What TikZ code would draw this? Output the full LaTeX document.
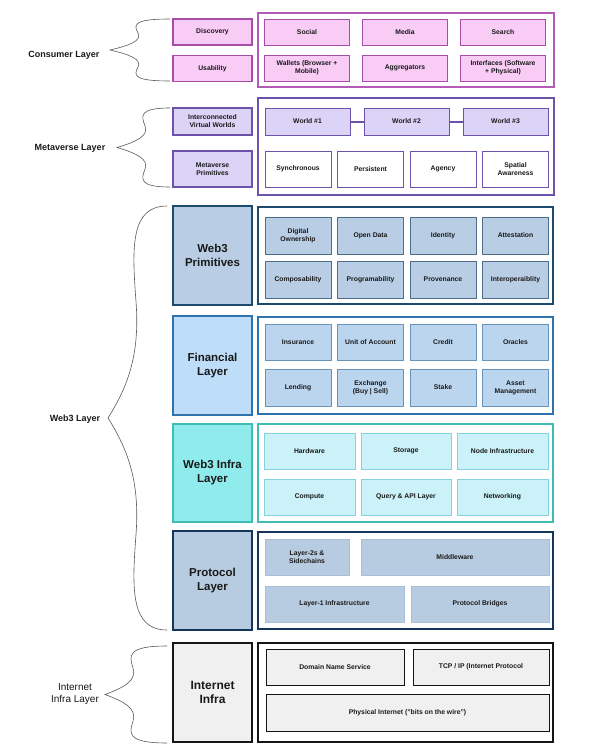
\documentclass[tikz,border=0pt]{standalone}
\usepackage{fontspec}
\setmainfont{Liberation Sans}
\usetikzlibrary{positioning}

\definecolor{conFill}{HTML}{F9CCF6}
\definecolor{conLine}{HTML}{A54DA8}
\definecolor{conBox}{HTML}{B25CB8}
\definecolor{metaFill}{HTML}{DCD4F7}
\definecolor{metaLine}{HTML}{6C52A8}
\definecolor{primFill}{HTML}{B9CEE4}
\definecolor{primLine}{HTML}{1E4A6C}
\definecolor{finSide}{HTML}{BDDDF8}
\definecolor{finSideLine}{HTML}{2E73AE}
\definecolor{finFill}{HTML}{BCD5EE}
\definecolor{finLine}{HTML}{6A93B8}
\definecolor{infraSide}{HTML}{8FEBEC}
\definecolor{infraSideLine}{HTML}{3FBCB4}
\definecolor{infraFill}{HTML}{CBF2F8}
\definecolor{infraLine}{HTML}{86D2DC}
\definecolor{protFill}{HTML}{B8CCE1}
\definecolor{protLine}{HTML}{16355A}
\definecolor{protItem}{HTML}{A9BFD8}
\definecolor{netFill}{HTML}{F0F0F0}
\definecolor{netLine}{HTML}{151515}

% curly brace on the left: right x, tip x, top y, bottom y
\newcommand{\sidebrace}[4]{%
  \pgfmathsetmacro{\brh}{(#4-#3)/2}
  \pgfmathsetmacro{\brm}{(#4+#3)/2}
  \draw[brace] (#1,#3) .. controls ({#2+22},#3) and ({#2+24},{#3+0.2*\brh}) .. ({#2+28},{#3+0.45*\brh})
     .. controls ({#2+32},{#3+0.7*\brh}) and ({#2+20},{\brm-0.15*\brh}) .. (#2,\brm)
     .. controls ({#2+20},{\brm+0.15*\brh}) and ({#2+32},{#4-0.7*\brh}) .. ({#2+28},{#4-0.45*\brh})
     .. controls ({#2+24},{#4-0.2*\brh}) and ({#2+22},#4) .. (#1,#4);
}

\begin{document}
\begin{tikzpicture}[
    x=1pt, y=-1pt,
    cell/.style={rectangle, draw, line width=1pt, align=center, inner sep=1pt, text=black!90,
        font=\fontsize{6.8}{7.9}\selectfont\bfseries},
    side/.style={rectangle, draw, line width=1.6pt, align=center, inner sep=1pt, text=black!90,
        minimum width=79pt, font=\fontsize{11.5}{14}\selectfont\bfseries},
    frame/.style={rectangle, draw, line width=1.6pt, fill=white, minimum width=295pt},
    tag/.style={align=center, text=black!90, font=\fontsize{9}{11}\selectfont\bfseries},
    brace/.style={draw=black!65, line width=0.6pt},
    wh/.style 2 args={minimum width=#1pt, minimum height=#2pt},
    link/.style={draw=metaLine, line width=2pt}
]
\useasboundingbox (0,0) rectangle (600,744);

% Consumer Layer
\node (Consumer) at (64,55) [tag] {Consumer Layer};
\sidebrace{170}{110}{19}{81}
\node (Discovery) at (212.5,32) [cell, wh={79}{26}, fill=conFill, draw=conLine, line width=1.4pt] {Discovery};
\node (Usability) at (212.5,68.5) [cell, wh={79}{26}, fill=conFill, draw=conLine, line width=1.4pt] {Usability};
\node (ConFrame) at (406,50) [frame, wh={296}{74}, draw=conBox] {};
\node (Social) at (307,32) [cell, wh={85}{26}, fill=conFill, draw=conLine] {Social};
\node (Media) at (405,32) [cell, wh={85}{26}, fill=conFill, draw=conLine] {Media};
\node (Search) at (503,32) [cell, wh={85}{26}, fill=conFill, draw=conLine] {Search};
\node (Wallets) at (307,68) [cell, wh={85}{26}, fill=conFill, draw=conLine] {Wallets (Browser +\\Mobile)};
\node (Aggregators) at (405,68) [cell, wh={85}{26}, fill=conFill, draw=conLine] {Aggregators};
\node (Interfaces) at (503,68) [cell, wh={85}{26}, fill=conFill, draw=conLine] {Interfaces (Software\\+ Physical)};

% Metaverse Layer
\node (Metaverse) at (70,148) [tag] {Metaverse Layer};
\sidebrace{170}{117}{108}{187}
\node (Worlds) at (212.5,121.5) [cell, wh={79}{27}, fill=metaFill, draw=metaLine, line width=1.4pt] {Interconnected\\Virtual Worlds};
\node (MetaPrim) at (212.5,169) [cell, wh={79}{36}, fill=metaFill, draw=metaLine, line width=1.4pt] {Metaverse\\Primitives};
\node (MetaFrame) at (406,146.5) [frame, wh={296}{97}, draw=metaLine] {};
\node (WorldA) at (307.5,121.5) [cell, wh={85}{27}, fill=metaFill, draw=metaLine] {World \#1};
\node (WorldB) at (406.5,121.5) [cell, wh={85}{27}, fill=metaFill, draw=metaLine] {World \#2};
\node (WorldC) at (505.5,121.5) [cell, wh={85}{27}, fill=metaFill, draw=metaLine] {World \#3};
\draw[link] (WorldA.east) -- (WorldB.west);
\draw[link] (WorldB.east) -- (WorldC.west);
\node (Sync) at (298,169) [cell, wh={66}{36}, fill=white, draw=metaLine] {Synchronous};
\node (Persist) at (370.5,169) [cell, wh={66}{36}, fill=white, draw=metaLine] {Persistent};
\node (Agency) at (443,169) [cell, wh={66}{36}, fill=white, draw=metaLine] {Agency};
\node (Spatial) at (515.5,169) [cell, wh={66}{36}, fill=white, draw=metaLine] {Spatial\\Awareness};

% Web3 Layer
\node (Web3) at (75,419) [tag] {Web3 Layer};
\sidebrace{167}{108}{206}{630}

% Web3 Primitives
\node (Prim) at (212.5,255.5) [side, minimum height=99pt, fill=primFill, draw=primLine] {Web3\\Primitives};
\node (PrimFrame) at (405.5,255.5) [frame, wh={295}{97}, draw=primLine] {};
\node (Ownership) at (298,235.5) [cell, wh={66}{37}, fill=primFill, draw=primLine!80] {Digital\\Ownership};
\node (OpenData) at (370.5,235.5) [cell, wh={66}{37}, fill=primFill, draw=primLine!80] {Open Data};
\node (Identity) at (443,235.5) [cell, wh={66}{37}, fill=primFill, draw=primLine!80] {Identity};
\node (Attest) at (515.5,235.5) [cell, wh={66}{37}, fill=primFill, draw=primLine!80] {Attestation};
\node (Compose) at (298,279.5) [cell, wh={66}{37}, fill=primFill, draw=primLine!80] {Composability};
\node (Program) at (370.5,279.5) [cell, wh={66}{37}, fill=primFill, draw=primLine!80] {Programability};
\node (Proven) at (443,279.5) [cell, wh={66}{37}, fill=primFill, draw=primLine!80] {Provenance};
\node (Interop) at (515.5,279.5) [cell, wh={66}{37}, fill=primFill, draw=primLine!80] {Interoperaiblity};

% Financial Layer
\node (Fin) at (212.5,365.5) [side, minimum height=99pt, fill=finSide, draw=finSideLine] {Financial\\Layer};
\node (FinFrame) at (405.5,365.5) [frame, wh={295}{97}, draw=finSideLine] {};
\node (Insure) at (298,342) [cell, wh={66}{36}, fill=finFill, draw=finLine] {Insurance};
\node (Unit) at (370.5,342) [cell, wh={66}{36}, fill=finFill, draw=finLine] {Unit of Account};
\node (Credit) at (443,342) [cell, wh={66}{36}, fill=finFill, draw=finLine] {Credit};
\node (Oracles) at (515.5,342) [cell, wh={66}{36}, fill=finFill, draw=finLine] {Oracles};
\node (Lending) at (298,387.5) [cell, wh={66}{37}, fill=finFill, draw=finLine] {Lending};
\node (Exchange) at (370.5,387.5) [cell, wh={66}{37}, fill=finFill, draw=finLine] {Exchange\\(Buy | Sell)};
\node (Stake) at (443,387.5) [cell, wh={66}{37}, fill=finFill, draw=finLine] {Stake};
\node (Asset) at (515.5,387.5) [cell, wh={66}{37}, fill=finFill, draw=finLine] {Asset\\Management};

% Web3 Infra Layer
\node (Infra) at (212.5,473) [side, minimum height=98pt, fill=infraSide, draw=infraSideLine] {Web3 Infra\\Layer};
\node (InfraFrame) at (405.5,473) [frame, wh={295}{98}, draw=infraSideLine] {};
\node (Hardware) at (309.5,451) [cell, wh={91}{36}, fill=infraFill, draw=infraLine] {Hardware};
\node (Storage) at (406,451) [cell, wh={90}{36}, fill=infraFill, draw=infraLine] {Storage};
\node (NodeInfra) at (502.5,451) [cell, wh={91}{36}, fill=infraFill, draw=infraLine] {Node Infrastructure};
\node (Compute) at (309.5,497) [cell, wh={91}{36}, fill=infraFill, draw=infraLine] {Compute};
\node (Query) at (406,497) [cell, wh={90}{36}, fill=infraFill, draw=infraLine] {Query \& API Layer};
\node (Network) at (502.5,497) [cell, wh={91}{36}, fill=infraFill, draw=infraLine] {Networking};

% Protocol Layer
\node (Proto) at (212.5,580.5) [side, minimum height=99pt, fill=protFill, draw=protLine] {Protocol\\Layer};
\node (ProtoFrame) at (405.5,580.5) [frame, wh={295}{97}, draw=protLine] {};
\node (LayerTwo) at (307,557) [cell, wh={84}{36}, fill=protFill, draw=protItem] {Layer-2s \&\\Sidechains};
\node (Middle) at (455,557) [cell, wh={188}{36}, fill=protFill, draw=protItem] {Middleware};
\node (LayerOne) at (334.5,604) [cell, wh={139}{36}, fill=protFill, draw=protItem] {Layer-1 Infrastructure};
\node (Bridges) at (480,604) [cell, wh={138}{36}, fill=protFill, draw=protItem] {Protocol Bridges};

% Internet Infra Layer
\node (Internet) at (75,694) [tag, font=\fontsize{10}{12}\selectfont] {Internet\\Infra Layer};
\sidebrace{167}{105}{646}{743}
\node (Net) at (212.5,692.5) [side, minimum height=99pt, fill=netFill, draw=netLine, font=\fontsize{12}{14.5}\selectfont\bfseries] {Internet\\Infra};
\node (NetFrame) at (405.5,692.5) [frame, wh={295}{99}, draw=netLine] {};
\node (DNS) at (335,667) [cell, wh={138}{36}, fill=netFill, draw=netLine] {Domain Name Service};
\node (TCP) at (481,667) [cell, wh={136}{36}, fill=netFill, draw=netLine] {TCP / IP (Internet Protocol};
\node (Physical) at (407.5,712.5) [cell, wh={283}{37}, fill=netFill, draw=netLine] {Physical Internet (”bits on the wire”)};
\end{tikzpicture}
\end{document}
